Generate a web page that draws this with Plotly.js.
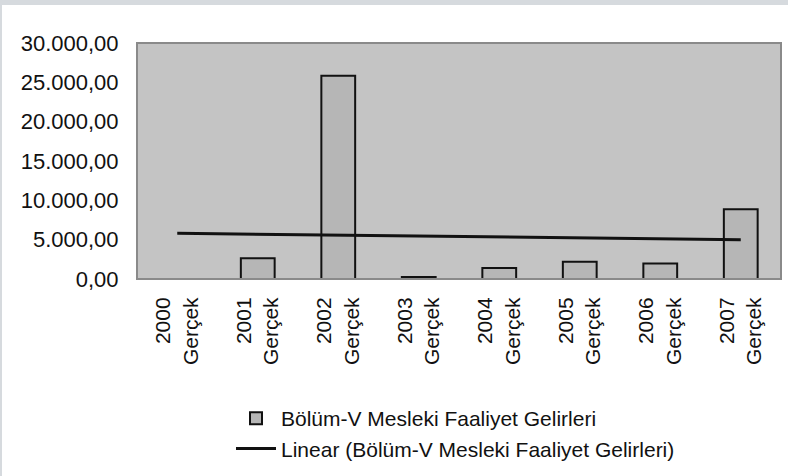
<!DOCTYPE html>
<html>
<head>
<meta charset="utf-8">
<script src="https://cdn.plot.ly/plotly-3.0.1.min.js"></script>
<style>
  html, body { margin: 0; padding: 0; background: #d6dade; width: 788px; height: 476px; overflow: hidden; }
  #chart { position: absolute; left: 2px; top: 5px; width: 786px; height: 471px; background: #ffffff; }
</style>
</head>
<body>
<div id="chart"></div>
<script>
// Data
const categories = ["2000<br>Gerçek", "2001<br>Gerçek", "2002<br>Gerçek", "2003<br>Gerçek",
                    "2004<br>Gerçek", "2005<br>Gerçek", "2006<br>Gerçek", "2007<br>Gerçek"];
const barValues = [0, 2650, 25850, 250, 1400, 2200, 1980, 8880];
const trendCategories = ["2000<br>Gerçek", "2007<br>Gerçek"];
const trendValues = [5800, 5000];
const yTicks = [0, 5000, 10000, 15000, 20000, 25000, 30000];
const barName = "Bölüm-V Mesleki Faaliyet Gelirleri";
const trendName = "Linear (Bölüm-V Mesleki Faaliyet Gelirleri)";

const font = "Liberation Sans, Arial, sans-serif";

const traces = [
  {
    type: "bar",
    x: categories,
    y: barValues,
    name: barName,
    width: 0.42,
    marker: { color: "#b6b6b6", line: { color: "#111111", width: 2 } },
    hoverinfo: "x+y"
  },
  {
    type: "scatter",
    mode: "lines",
    x: trendCategories,
    y: trendValues,
    name: trendName,
    line: { color: "#111111", width: 3 }
  }
];

const layout = {
  width: 786,
  height: 471,
  margin: { l: 135, r: 7, t: 38, b: 197, autoexpand: false },
  paper_bgcolor: "#ffffff",
  plot_bgcolor: "#c4c4c4",
  separators: ",.",
  font: { family: font, size: 22, color: "#111111" },
  showlegend: true,
  legend: {
    xref: "container", yref: "container",
    x: 229 / 786, xanchor: "left",
    y: 1 - 393 / 471, yanchor: "top",
    bgcolor: "rgba(0,0,0,0)",
    font: { family: font, size: 21, color: "#111111" },
    tracegroupgap: 0,
    itemwidth: 40
  },
  xaxis: {
    type: "category",
    automargin: false,
    tickangle: -90,
    tickfont: { family: font, size: 21, color: "#111111" },
    showgrid: false,
    zeroline: false,
    showline: false,
    ticks: "outside",
    ticklen: 9,
    tickcolor: "rgba(0,0,0,0)",
    fixedrange: true
  },
  yaxis: {
    automargin: false,
    range: [0, 30000],
    tickvals: yTicks,
    tickformat: ",.2f",
    tickfont: { family: font, size: 22, color: "#111111" },
    showgrid: false,
    zeroline: false,
    showline: false,
    ticks: "outside",
    ticklen: 13,
    tickcolor: "rgba(0,0,0,0)",
    fixedrange: true
  },
  shapes: [
    {
      type: "rect", xref: "paper", yref: "paper",
      x0: 0, x1: 1, y0: 0, y1: 1,
      line: { color: "#8a8a8a", width: 2 },
      fillcolor: "rgba(0,0,0,0)",
      layer: "above"
    }
  ]
};

Plotly.newPlot("chart", traces, layout, { displayModeBar: false, staticPlot: true });
</script>
</body>
</html>
